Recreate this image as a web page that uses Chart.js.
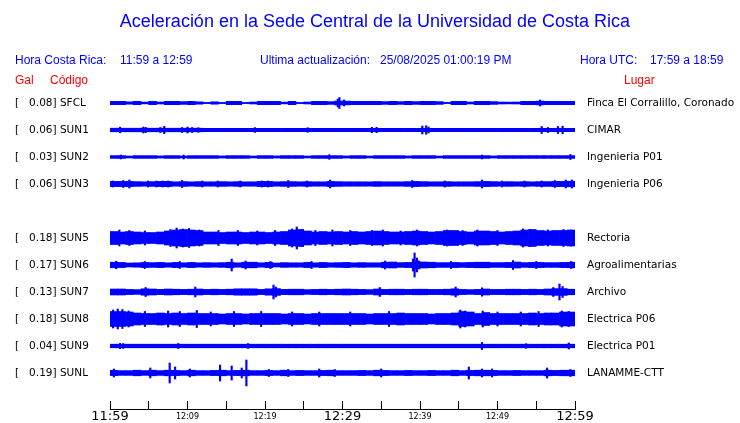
<!DOCTYPE html>
<html>
<head>
<meta charset="utf-8">
<script src="https://cdn.jsdelivr.net/npm/chart.js@4"></script>
<style>
  body { margin: 0; background: #fff; }
  #wrap { position: relative; width: 740px; height: 423px; overflow: hidden; }
  #c { position: absolute; left: 0; top: 0; }
  .t { position: absolute; font-family: 'Liberation Sans', Arial, sans-serif; white-space: pre; line-height: 1; }
  .blue { color: #0000ff; }
  .red { color: #ff0000; }
</style>
</head>
<body>
<div id="wrap">
  <canvas id="c" width="740" height="423"></canvas>
  <div class="t blue" style="left:5px;width:740px;text-align:center;top:12px;font-size:18px">Aceleración en la Sede Central de la Universidad de Costa Rica</div>
  <div class="t blue" style="left:15px;top:54px;font-size:12px">Hora Costa Rica:</div>
  <div class="t blue" style="left:120px;top:54px;font-size:12px">11:59 a 12:59</div>
  <div class="t blue" style="left:260px;top:54px;font-size:12px">Ultima actualización:</div>
  <div class="t blue" style="left:380px;top:54px;font-size:12px">25/08/2025 01:00:19 PM</div>
  <div class="t blue" style="left:580px;top:54px;font-size:12px">Hora UTC:</div>
  <div class="t blue" style="left:650px;top:54px;font-size:12px">17:59 a 18:59</div>
  <div class="t red" style="left:15px;top:74px;font-size:12px">Gal</div>
  <div class="t red" style="left:50px;top:74px;font-size:12px">Código</div>
  <div class="t red" style="left:624px;top:74px;font-size:12px">Lugar</div>
</div>
<script>
// time axis, one hour in minutes
const tickLabels = ['11:59', '', '12:09', '', '12:19', '', '12:29', '', '12:39', '', '12:49', '', '12:59'];
const bigTicks = ['11:59', '12:29', '12:59'];

// stations (the blank slot is where SUN4 would go)
const codes = ['SFCL', 'SUN1', 'SUN2', 'SUN3', '', 'SUN5', 'SUN6', 'SUN7', 'SUN8', 'SUN9', 'SUNL'];
const gal = [0.08, 0.06, 0.03, 0.06, null, 0.18, 0.17, 0.13, 0.18, 0.04, 0.19];
const places = ['Finca El Corralillo, Coronado', 'CIMAR', 'Ingenieria P01', 'Ingenieria P06', '',
  'Rectoria', 'Agroalimentarias', 'Archivo', 'Electrica P06', 'Electrica P01', 'LANAMME-CTT'];

// half amplitude of each trace, one value per minute
const ampSFCL = [1.7,1.7,1.2,1.7,0.9,1.7,1.0,1.7,1.7,1.4, 1.7,1.2,0.6,1.2,0.6,1.7,1.7,0.6,1.0,1.7,
  1.7,1.7,0.9,1.7,0.6,1.0,1.7,1.7,1.4,2.0, 1.9,1.7,1.7,1.7,1.7,1.4,1.7,1.4,1.7,1.4,
  1.7,1.7,1.4,0.6,1.7,1.7,1.0,1.7,1.7,1.4, 1.0,0.9,1.0,1.7,1.7,1.9,1.7,1.7,1.7,1.7];
const ampSUN1 = [1.8,1.8,1.8,1.8,1.8,1.8,1.8,1.8,1.8,1.8, 1.8,1.8,1.7,1.7,1.7,1.7,1.7,1.7,1.7,1.7,
  1.7,1.7,1.7,1.7,1.7,1.7,1.7,1.7,1.7,1.7, 1.7,1.7,1.7,1.7,1.7,1.7,1.7,1.7,1.7,1.7,
  1.7,1.7,1.7,1.7,1.7,1.7,1.7,1.7,1.7,1.7, 1.7,1.7,1.7,1.7,1.7,1.7,1.7,1.7,1.7,1.7];
const ampSUN2 = [1.4,1.4,1.0,1.4,1.4,1.4,1.1,1.4,1.4,1.0, 1.4,1.4,1.4,1.4,1.1,1.4,1.4,1.4,1.0,1.4,
  1.4,1.1,1.4,1.4,1.4,1.0,1.4,1.4,1.4,1.4, 1.1,1.4,1.4,1.0,1.4,1.4,1.4,1.4,1.1,1.4,
  1.4,1.4,1.0,1.4,1.4,1.4,1.4,1.4,1.4,1.1, 1.4,1.4,1.4,1.4,1.4,1.4,1.4,1.4,1.4,1.4];
const ampSUN3 = [2.6,2.6,2.6,2.4,2.2,2.4,2.6,2.6,2.2,2.4, 2.2,2.4,2.2,2.2,2.4,2.2,2.4,2.2,2.2,2.6,
  2.6,2.2,2.4,2.4,2.2,2.4,2.2,2.2,2.6,2.4, 2.2,2.2,2.2,2.2,2.4,2.2,2.2,2.2,2.4,2.6,
  2.4,2.2,2.2,2.4,2.2,2.2,2.2,2.4,2.6,2.4, 2.2,2.4,2.2,2.4,2.2,2.4,2.4,2.6,2.6,2.8];
const ampSUN5 = [6.5,6,6.5,6,5.5,5.5,6,7,8,8.5, 8,7.5,6,6,5.5,6,6,5.5,6,6,
  5.5,6,6.5,8,8.5,7,6,6.5,6,6.5, 6,6.5,6,6.5,7,6.5,6,6,6.5,7,
  6.5,6,6.5,7.5,7.5,6.5,6,7,7,6.5, 6,6.5,7,8,8.5,7.5,7,7.5,7.5,8];
const ampSUN6 = [2.8,2.6,2,2.2,2.6,2.4,2.6,2.2,2.6,2.2, 2.6,2.2,2.4,2.2,2.4,2.8,2.2,2.8,2.8,2.2,
  2.6,2,2.4,2.2,2.2,2.6,2.2,2.6,2.2,2.4, 2.6,2.2,2.4,2.2,2.2,2.8,3,2.4,2.6,4,
  3,2.8,2.4,2.4,2.6,2.4,2.6,2.8,2.8,2.4, 2.4,2.6,3,2.4,2.6,2.6,2.4,2.4,2.6,2.8];
const ampSUN7 = [3,3,2.6,2.4,3.2,3,2.6,3,2.8,2.6, 2.8,3,2.6,2.8,2.6,2.8,3.2,3.2,3.2,2.6,
  3.2,3.4,2.6,2.8,2.8,2.4,2.6,2.8,2.6,2.8, 3,2.8,2.6,2.4,3,2.6,2.8,2.8,2.6,2.8,
  2.8,2.6,2.6,2.8,3.2,2.6,2.4,2.6,3,2.6, 2.6,2.8,2.8,2.6,2.8,2.6,3,3.4,3.4,2.8];
const ampSUN8 = [7.5,7.5,7,6,5.5,5.5,6,5.5,6,5.5, 6,5.5,5.5,5.5,5,5.5,5.5,5,5.5,5.5,
  5.5,5.5,5,5.5,5.5,5,5.5,5.5,5.5,5.5, 5.5,5.5,5.5,5,5.5,5.5,5.5,6,5.5,5.5,
  5.5,5,5.5,5.5,6,7.5,7,5.5,6.5,5.5, 5.5,5.5,5.5,5.5,6,5.5,6,6,7,7];
const ampSUN9 = [1.8,1.8,1.8,1.8,1.8,1.8,1.8,1.8,1.8,1.8, 1.8,1.8,1.8,1.8,1.8,1.8,1.8,1.8,1.8,1.8,
  1.8,1.8,1.8,1.8,1.8,1.8,1.8,1.8,1.8,1.8, 1.8,1.8,1.8,1.8,1.8,1.8,1.8,1.8,1.8,1.8,
  1.8,1.8,1.8,1.8,1.8,1.8,1.8,1.8,1.8,1.8, 1.8,1.8,1.8,1.8,1.8,1.8,1.8,1.8,1.8,1.8];
const ampSUNL = [2.6,2.4,2.4,2.8,2.4,2.8,2.4,2.8,2.6,2.4, 2.8,2.4,2.4,2.6,2.8,2.4,2.6,2.8,2.4,2.4,
  2.6,2.4,2.8,2.4,2.6,2.4,2.4,2.6,2.8,2.4, 2.4,2.4,2.6,2.4,2.8,2.6,2.4,2.4,2.6,2.4,
  2.4,2.6,2.4,2.4,2.8,2.4,2.6,2.8,2.8,2.6, 2.4,2.4,2.6,2.4,2.4,2.4,2.8,2.6,2.8,2.8];

// sharp peaks: [minute, half amplitude]
const spikeSFCL = [[29.4, 4], [29.6, 5.5], [30.2, 3], [55.5, 3]];
const spikeSUN1 = [[1.3, 2.8], [4.3, 3], [4.6, 2.6], [6.5, 2.5], [7, 3.7], [9.3, 2.5], [10, 3], [10.6, 2.5],
  [11.4, 2.3], [18.7, 2.4], [25.5, 2.3], [33.8, 2.7], [34.4, 2.7], [40.3, 4], [40.8, 4.3], [41.1, 3],
  [55.7, 3.5], [56.5, 2.5], [57.8, 3.5], [58.4, 3.8]];
const spikeSUN2 = [[1.4, 2], [9.5, 2], [28.3, 2.3], [48, 2], [59.4, 2.5]];
const spikeSUN3 = [[0.4, 3], [1.7, 3.5], [2.5, 4], [4.9, 3], [6, 3], [6.8, 3], [7.5, 3], [9.3, 3.5],
  [11.9, 3], [13.9, 3], [16.8, 3], [19.6, 3], [20.4, 3], [23, 3.5], [25.4, 3], [28.4, 4], [39, 3.5],
  [43.2, 3], [48, 4], [50.6, 3], [53.5, 3], [55.7, 3], [57.4, 3.5], [58.8, 4], [59.6, 4]];
const spikeSUN5 = [[1.2, 8], [2.5, 7.5], [4.5, 7], [7.8, 8.5], [8.6, 10], [9.4, 9], [10.2, 9.5], [11.5, 8],
  [14, 7.5], [16.5, 7.5], [19, 7], [21.3, 7.5], [23.5, 9], [24.1, 11], [24.8, 8.5], [26.5, 7.5], [28.7, 8],
  [31, 7.5], [33.8, 7.5], [35.2, 8], [37.5, 7], [39.6, 8], [43.5, 8], [45.5, 7.5], [47.4, 8], [50, 7.5],
  [53.3, 9], [54.2, 8.5], [56.5, 8], [58.5, 8.5], [59.5, 8]];
const spikeSUN6 = [[0.8, 3.8], [4.5, 3.5], [9, 3.5], [15.7, 6], [17.5, 4], [20.7, 3.5], [26, 3.5], [35.5, 4],
  [39.1, 6], [39.3, 12], [39.6, 7], [44, 3.5], [52, 4.5], [55, 3.5], [59.5, 3.5]];
const spikeSUN7 = [[4.6, 4.5], [11, 5], [21.1, 7], [21.4, 5], [34.8, 4.5], [44.6, 5], [48, 4.2], [57.2, 4.5],
  [58, 8], [58.4, 5.5]];
const spikeSUN8 = [[0.4, 9], [1, 10], [1.6, 9.5], [2.4, 8], [4.5, 7.5], [7.5, 8], [9, 7.5], [11.2, 8.5], [13, 7],
  [16, 7.5], [19.5, 7.5], [23.5, 7], [27, 7], [31, 7], [36, 7.5], [45.2, 9], [45.8, 8], [48.1, 8], [50, 7],
  [53, 7], [55.3, 7.5], [58.3, 8], [59.2, 7.5]];
const spikeSUN9 = [[1.3, 2.6], [1.7, 2.4], [8.8, 2.5], [17.8, 2.4], [48, 3.5], [53.7, 2.3], [59.2, 3]];
const spikeSUNL = [[0.5, 4], [5.2, 5], [7.7, 10], [8.4, 6], [10.3, 4], [14.2, 8], [15.7, 7], [17, 5], [17.6, 13],
  [20.5, 3.5], [23, 3.5], [27, 4], [29, 3.5], [35, 4], [46.3, 6], [48, 4], [49.3, 4], [56.4, 5], [59.4, 3.5]];

const amps = [ampSFCL, ampSUN1, ampSUN2, ampSUN3, null, ampSUN5, ampSUN6, ampSUN7, ampSUN8, ampSUN9, ampSUNL];
const spikes = [spikeSFCL, spikeSUN1, spikeSUN2, spikeSUN3, null, spikeSUN5, spikeSUN6, spikeSUN7, spikeSUN8, spikeSUN9, spikeSUNL];

const traceColor = '#0000ff';
const rowCenter = i => 15 + 27 * i;

const datasets = [];
amps.forEach((a, i) => {
  if (!a) return;
  const c = rowCenter(i);
  // body of the trace
  datasets.push({
    data: a.map((v, m) => ({ x: m + 0.5, y: [c - v, c + v] })),
    backgroundColor: traceColor,
    borderWidth: 0,
    grouped: false,
    categoryPercentage: 1,
    barPercentage: 1,
    xAxisID: 'x',
    yAxisID: 'y'
  });
  // peaks
  datasets.push({
    data: spikes[i].map(s => ({ x: s[0], y: [c - s[1], c + s[1]] })),
    backgroundColor: traceColor,
    borderWidth: 0,
    grouped: false,
    barThickness: 1.5,
    xAxisID: 'x2',
    yAxisID: 'y'
  });
});

const labelFont = { family: "'DejaVu Sans', sans-serif", size: 10.5 };

// side axes only hold the station labels; drop their extra padding
function fixSide(width) {
  return s => {
    s.width = width;
    s.paddingTop = 0;
    s.paddingBottom = 0;
  };
}

new Chart(document.getElementById('c'), {
  type: 'bar',
  data: { datasets: datasets },
  options: {
    responsive: false,
    animation: false,
    layout: { padding: { left: 15, right: 0, top: 88, bottom: 0 } },
    plugins: { legend: { display: false }, tooltip: { enabled: false } },
    scales: {
      x: {
        type: 'linear',
        min: 0,
        max: 60,
        offset: false,
        position: 'bottom',
        grid: { offset: false, drawOnChartArea: false, tickLength: -8, color: '#000', lineWidth: 1 },
        border: { display: true, color: '#000', width: 1 },
        afterFit: s => { s.height = 14; },
        ticks: {
          stepSize: 5,
          autoSkip: false,
          maxRotation: 0,
          padding: 11,
          color: '#000',
          callback: (v, i) => tickLabels[i],
          font: ctx => bigTicks.includes(tickLabels[ctx.index])
            ? { family: "'DejaVu Sans', sans-serif", size: 13, lineHeight: '10px' }
            : { family: "'DejaVu Sans', sans-serif", size: 8, lineHeight: '10px' }
        }
      },
      x2: { type: 'linear', min: 0, max: 60, offset: false, display: false },
      y: {
        type: 'linear',
        reverse: true,
        min: 0,
        max: 321,
        position: 'left',
        grid: { display: false, drawTicks: false },
        border: { display: false },
        afterBuildTicks: s => { s.ticks = codes.map((c, i) => ({ value: rowCenter(i) })); },
        afterFit: fixSide(95),
        ticks: {
          autoSkip: false,
          crossAlign: 'far',
          padding: 0,
          color: '#000',
          font: labelFont,
          callback: (v, i) => codes[i] ? '[   ' + gal[i].toFixed(2) + '] ' + codes[i] : ''
        }
      },
      y2: {
        type: 'linear',
        reverse: true,
        min: 0,
        max: 321,
        position: 'right',
        grid: { display: false, drawTicks: false },
        border: { display: false },
        afterBuildTicks: s => { s.ticks = places.map((p, i) => ({ value: rowCenter(i) })); },
        afterFit: fixSide(165),
        ticks: {
          autoSkip: false,
          crossAlign: 'near',
          padding: 12,
          color: '#000',
          font: labelFont,
          callback: (v, i) => places[i]
        }
      }
    }
  }
});
</script>
</body>
</html>
